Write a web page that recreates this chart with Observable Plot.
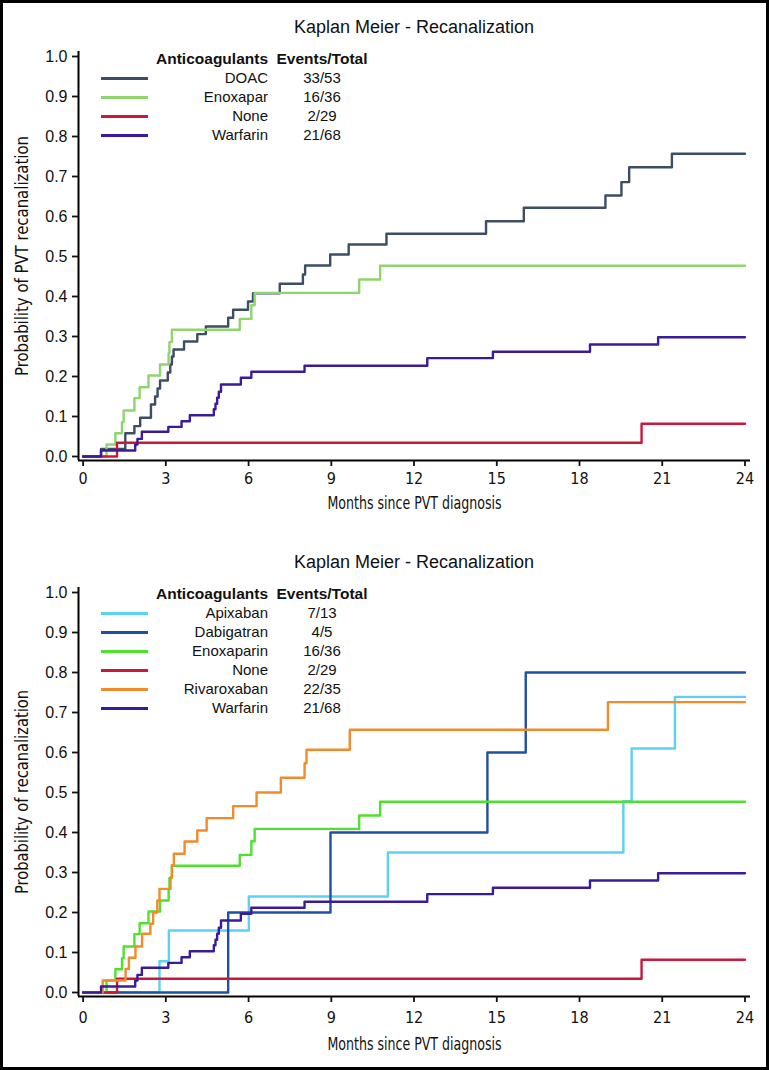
<!DOCTYPE html>
<html><head><meta charset="utf-8">
<script src="https://cdn.jsdelivr.net/npm/d3@7"></script>
<script src="https://cdn.jsdelivr.net/npm/@observablehq/plot@0.6"></script>
<style>
html,body{margin:0;padding:0;background:#fff;}
#page{position:relative;width:769px;height:1070px;overflow:hidden;font-family:"Liberation Sans",Arial,Helvetica,sans-serif;color:#111;}
#border{position:absolute;left:0;top:0;width:769px;height:1070px;box-sizing:border-box;border:3px solid #000;pointer-events:none;z-index:10;}
.chart{position:absolute;left:0;width:769px;}
.chart svg{position:absolute;left:0;top:0;}
.title{position:absolute;left:78px;width:672px;text-align:center;font-size:18px;line-height:22px;}
.leg{position:absolute;font-size:15px;line-height:20px;height:20px;white-space:nowrap;}
.leg.hdr{font-weight:bold;font-size:15.5px;}
.sw{position:absolute;left:101px;width:47px;height:2.5px;}
g[aria-label="x-axis label"] text{font-family:"Liberation Sans Narrow","Arial Narrow","DejaVu Sans Condensed",sans-serif;font-size:18px;}
g[aria-label="y-axis label"] text{font-family:"Liberation Sans Narrow","Arial Narrow","DejaVu Sans Condensed",sans-serif;font-size:18px;}
g[aria-label="x-axis tick label"] text{font-family:"Liberation Sans Narrow","Arial Narrow","DejaVu Sans Condensed",sans-serif;font-size:16px;}
</style>
</head><body>
<div id="page"><div id="border"></div></div>
<script>
// ---- axis ticks ----
const xTicks = [0, 3, 6, 9, 12, 15, 18, 21, 24];
const yTicks = [0, 0.1, 0.2, 0.3, 0.4, 0.5, 0.6, 0.7, 0.8, 0.9, 1.0];
const xDomain = [-0.167, 24.2];
const yDomain = [-0.01, 1.0125];

// ---- legend texts ----
const legendHeader = ["Anticoagulants", "Events/Total"];
const chartTitle = "Kaplan Meier - Recanalization";
const xLabel = "Months since PVT diagnosis";

// ---- top chart series ----
const topNames = ["DOAC", "Enoxapar", "None", "Warfarin"];
const topCounts = ["33/53", "16/36", "2/29", "21/68"];
const topColors = ["#3c4d64", "#8fd46c", "#c8193c", "#3b1b9a"];

const doacMonths = [0, 0.65, 1.53, 1.86, 2.07, 2.46, 2.61, 2.70, 2.79, 3.07, 3.16, 3.22, 3.28, 3.66, 4.14, 4.45, 5.26, 5.44, 5.98, 6.16, 7.13, 7.97, 8.05, 8.96, 9.63, 11.0, 14.61, 15.98, 18.94, 19.52, 19.8, 21.35, 24];
const doacProb   = [0, 0.019, 0.058, 0.076, 0.097, 0.13, 0.15, 0.17, 0.19, 0.21, 0.23, 0.25, 0.2675, 0.2875, 0.306, 0.325, 0.347, 0.367, 0.3875, 0.408, 0.432, 0.455, 0.4775, 0.505, 0.53, 0.557, 0.588, 0.622, 0.6525, 0.686, 0.723, 0.757, 0.757];

const enoxMonths = [0, 0.85, 1.17, 1.41, 1.47, 1.86, 2.05, 2.37, 2.79, 3.10, 3.13, 3.22, 5.68, 6.10, 6.22, 10.01, 10.77, 24];
const enoxProb   = [0, 0.03, 0.058, 0.086, 0.115, 0.146, 0.173, 0.2025, 0.23, 0.258, 0.286, 0.317, 0.344, 0.378, 0.409, 0.4425, 0.477, 0.477];

const noneMonths = [0, 1.23, 20.25, 24];
const noneProb   = [0, 0.0345, 0.082, 0.082];

const warfMonths = [0, 0.65, 1.89, 1.97, 2.13, 3.09, 3.57, 3.87, 4.74, 4.80, 4.86, 4.92, 5.00, 5.72, 6.10, 8.03, 12.48, 14.86, 18.38, 20.85, 24];
const warfProb   = [0, 0.015, 0.03, 0.044, 0.062, 0.074, 0.088, 0.103, 0.118, 0.132, 0.147, 0.162, 0.18, 0.197, 0.212, 0.227, 0.246, 0.262, 0.28, 0.298, 0.298];

// ---- bottom chart series ----
const botNames = ["Apixaban", "Dabigatran", "Enoxaparin", "None", "Rivaroxaban", "Warfarin"];
const botCounts = ["7/13", "4/5", "16/36", "2/29", "22/35", "21/68"];
const botColors = ["#5cd2f2", "#2150a0", "#4fe22c", "#c8193c", "#f28b2c", "#3b1b9a"];

const apixMonths = [0, 2.77, 3.11, 6.01, 11.05, 19.59, 19.89, 21.46, 24];
const apixProb   = [0, 0.078, 0.155, 0.24, 0.35, 0.478, 0.61, 0.739, 0.739];

const dabiMonths = [0, 5.26, 8.97, 14.66, 16.05, 24];
const dabiProb   = [0, 0.2, 0.4, 0.6, 0.8, 0.8];

const rivaMonths = [0, 0.71, 1.54, 1.66, 1.90, 2.14, 2.44, 2.54, 2.69, 2.77, 3.17, 3.22, 3.29, 3.68, 4.14, 4.48, 5.44, 6.29, 7.17, 8.03, 8.10, 9.67, 19.03, 24];
const rivaProb   = [0, 0.03, 0.059, 0.087, 0.115, 0.147, 0.172, 0.2, 0.23, 0.259, 0.288, 0.318, 0.347, 0.3775, 0.405, 0.436, 0.466, 0.5, 0.537, 0.573, 0.607, 0.657, 0.726, 0.726];

function rowsOf(name, ms, ps) { return ms.map((m, i) => ({series: name, month: m, prob: ps[i]})); }

const topRows = [
  ...rowsOf("DOAC", doacMonths, doacProb),
  ...rowsOf("Enoxapar", enoxMonths, enoxProb),
  ...rowsOf("None", noneMonths, noneProb),
  ...rowsOf("Warfarin", warfMonths, warfProb)
];
const botRows = [
  ...rowsOf("Apixaban", apixMonths, apixProb),
  ...rowsOf("Dabigatran", dabiMonths, dabiProb),
  ...rowsOf("Enoxaparin", enoxMonths, enoxProb),
  ...rowsOf("None", noneMonths, noneProb),
  ...rowsOf("Rivaroxaban", rivaMonths, rivaProb),
  ...rowsOf("Warfarin", warfMonths, warfProb)
];

function condense(svg, sel, len) {
  svg.querySelectorAll(sel).forEach(t => {
    t.setAttribute("textLength", len);
    t.setAttribute("lengthAdjust", "spacingAndGlyphs");
  });
}

function makeChart({top, height, marginTop, marginBottom, rows, names, counts, colors, yLabel, yLabelLen, titleY, legendY, tickPad, labelOff}) {
  const wrap = document.createElement("div");
  wrap.className = "chart";
  wrap.style.top = top + "px";
  wrap.style.height = height + "px";
  const svg = Plot.plot({
    width: 769, height, marginLeft: 78, marginRight: 19, marginTop, marginBottom,
    style: {fontFamily: "'Liberation Sans', Arial, sans-serif", fontSize: "16px", color: "#111", background: "transparent", overflow: "visible"},
    x: {domain: xDomain},
    y: {domain: yDomain},
    color: {domain: names, range: colors},
    marks: [
      Plot.ruleX([xDomain[0]], {stroke: "#000", strokeWidth: 2}),
      Plot.ruleY([yDomain[0]], {stroke: "#000", strokeWidth: 2}),
      Plot.axisX(xTicks, {tickSize: 6, tickPadding: tickPad, strokeWidth: 1.8, fontSize: 16, label: xLabel, labelAnchor: "center", labelArrow: "none", labelOffset: labelOff}),
      Plot.axisY(yTicks, {tickSize: 6, tickPadding: 5, strokeWidth: 1.8, fontSize: 16, tickFormat: d3.format(".1f"), label: yLabel, labelAnchor: "center", labelArrow: "none", labelOffset: 63}),
      Plot.line(rows, {x: "month", y: "prob", z: "series", stroke: "series", curve: "step-after", strokeWidth: 2.4})
    ]
  });
  condense(svg, 'g[aria-label="x-axis label"] text', 174);
  condense(svg, 'g[aria-label="y-axis label"] text', yLabelLen);
  wrap.appendChild(svg);
  const t = document.createElement("div");
  t.className = "title";
  t.style.top = (titleY - 11) + "px";
  t.textContent = chartTitle;
  wrap.appendChild(t);
  // legend
  const h1 = document.createElement("div");
  h1.className = "leg hdr";
  h1.style.cssText = `left:120px;width:148px;text-align:right;top:${legendY - 10}px`;
  h1.textContent = legendHeader[0];
  const h2 = document.createElement("div");
  h2.className = "leg hdr";
  h2.style.cssText = `left:262px;width:120px;text-align:center;top:${legendY - 10}px`;
  h2.textContent = legendHeader[1];
  wrap.append(h1, h2);
  names.forEach((n, i) => {
    const y = legendY + 19 * (i + 1);
    const sw = document.createElement("div");
    sw.className = "sw";
    sw.style.top = (y - 1) + "px";
    sw.style.background = colors[i];
    const l = document.createElement("div");
    l.className = "leg";
    l.style.cssText = `left:150px;width:118px;text-align:right;top:${y - 10}px`;
    l.textContent = n;
    const v = document.createElement("div");
    v.className = "leg";
    v.style.cssText = `left:282px;width:80px;text-align:center;top:${y - 10}px`;
    v.textContent = counts[i];
    wrap.append(sw, l, v);
  });
  document.getElementById("page").appendChild(wrap);
}

makeChart({top: 0, height: 530, marginTop: 51, marginBottom: 70, rows: topRows, names: topNames, counts: topCounts, colors: topColors,
  yLabel: "Probability of PVT recanalization", yLabelLen: 240, titleY: 27, legendY: 59, tickPad: 6, labelOff: 48});
makeChart({top: 530, height: 540, marginTop: 57, marginBottom: 74, rows: botRows, names: botNames, counts: botCounts, colors: botColors,
  yLabel: "Probability of recanalization", yLabelLen: 204, titleY: 32, legendY: 64, tickPad: 9, labelOff: 53});
</script>
</body></html>
